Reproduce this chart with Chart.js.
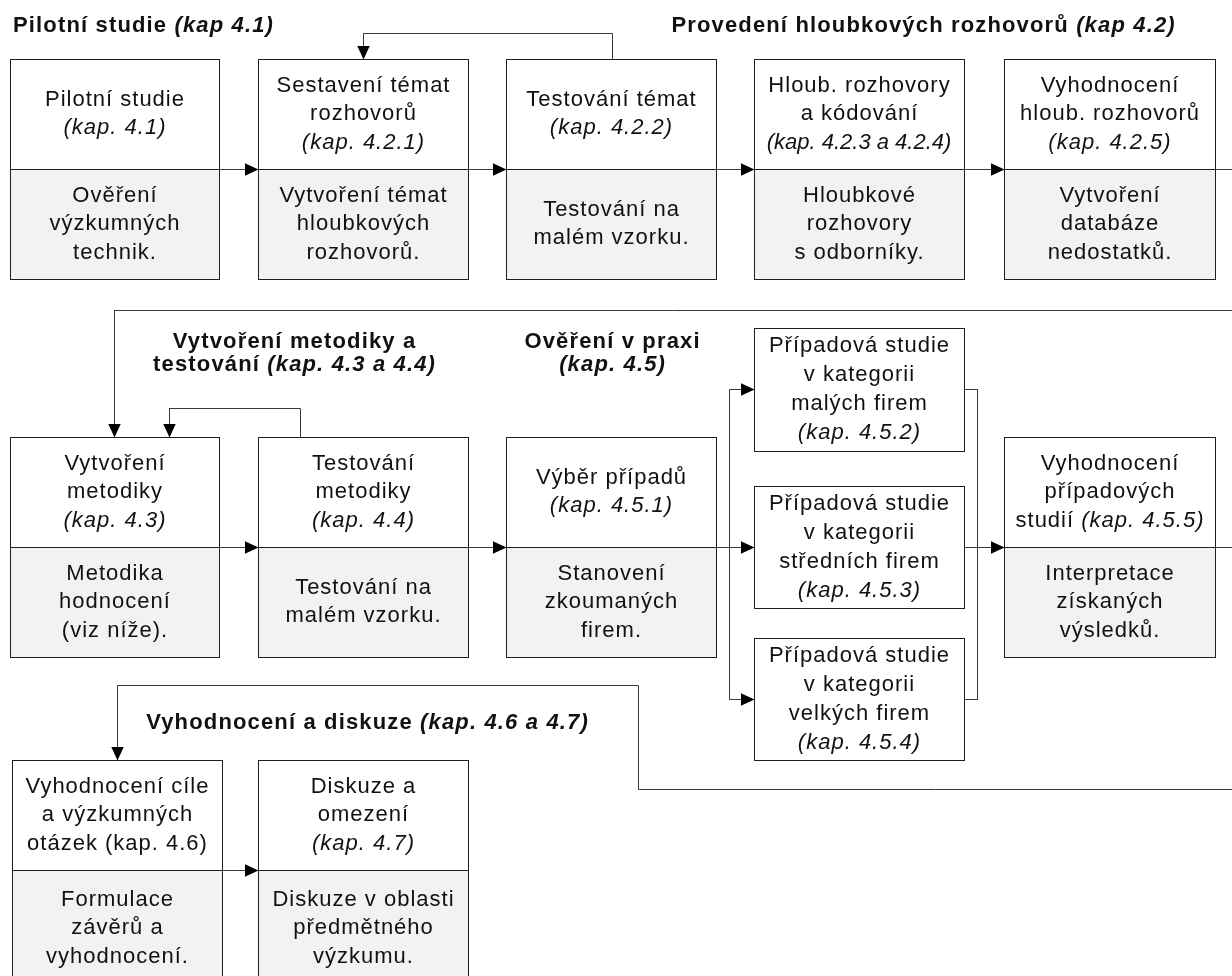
<!DOCTYPE html>
<html>
<head>
<meta charset="utf-8">
<script src="https://cdn.jsdelivr.net/npm/chart.js@4.4.0/dist/chart.umd.min.js"></script>
<style>
  html, body { margin: 0; padding: 0; background: #fff; }
  #wrap { width: 1232px; height: 976px; }
</style>
</head>
<body>
<div id="wrap"><canvas id="chart" width="1232" height="976"></canvas></div>
<script>
// --- texty (podtrzitko = kurziva, "~" na zacatku = bez prolozeni) ---
var headings = [
    "Pilotní studie _(kap 4.1)_",
    "Provedení hloubkových rozhovorů _(kap 4.2)_",
    "Vytvoření metodiky a\ntestování _(kap. 4.3 a 4.4)_",
    "Ověření v praxi\n_(kap. 4.5)_",
    "Vyhodnocení a diskuze _(kap. 4.6 a 4.7)_"
];

var boxTitles = [
    "Pilotní studie\n_(kap. 4.1)_",
    "Sestavení témat\nrozhovorů\n_(kap. 4.2.1)_",
    "Testování témat\n_(kap. 4.2.2)_",
    "Hloub. rozhovory\na kódování\n~_(kap. 4.2.3 a 4.2.4)_",
    "Vyhodnocení\nhloub. rozhovorů\n_(kap. 4.2.5)_",
    "Vytvoření\nmetodiky\n_(kap. 4.3)_",
    "Testování\nmetodiky\n_(kap. 4.4)_",
    "Výběr případů\n_(kap. 4.5.1)_",
    "Případová studie\nv kategorii\nmalých firem\n_(kap. 4.5.2)_",
    "Případová studie\nv kategorii\nstředních firem\n_(kap. 4.5.3)_",
    "Případová studie\nv kategorii\nvelkých firem\n_(kap. 4.5.4)_",
    "Vyhodnocení\npřípadových\nstudií _(kap. 4.5.5)_",
    "Vyhodnocení cíle\na výzkumných\notázek (kap. 4.6)",
    "Diskuze a\nomezení\n_(kap. 4.7)_"
];

var boxNotes = [
    "Ověření\nvýzkumných\ntechnik.",
    "Vytvoření témat\nhloubkových\nrozhovorů.",
    "Testování na\nmalém vzorku.",
    "Hloubkové\nrozhovory\ns odborníky.",
    "Vytvoření\ndatabáze\nnedostatků.",
    "Metodika\nhodnocení\n(viz níže).",
    "Testování na\nmalém vzorku.",
    "Stanovení\nzkoumaných\nfirem.",
    "",
    "",
    "",
    "Interpretace\nzískaných\nvýsledků.",
    "Formulace\nzávěrů a\nvyhodnocení.",
    "Diskuze v oblasti\npředmětného\nvýzkumu."
];

// --- rozmisteni (jednotky os = px) ---
var headingX = [13, 923, 294, 612, 367];
var headingY = [26, 26, 342, 342, 723];
var headingAlign = ['left', 'center', 'center', 'center', 'center'];

var boxX = [10, 258, 506, 754, 1004, 10, 258, 506, 754, 754, 754, 1004, 12, 258];
var boxY = [59, 59, 59, 59, 59, 437, 437, 437, 328, 486, 638, 437, 760, 760];
var boxW = [209, 210, 210, 210, 211, 209, 210, 210, 210, 210, 210, 211, 210, 210];
var boxTopH = [110, 110, 110, 110, 110, 110, 110, 110, 123, 122, 122, 110, 110, 110];
var boxLowH = [110, 110, 110, 110, 110, 110, 110, 110, 0, 0, 0, 110, 116, 116];

var connectors = [
    [[219, 169], [258, 169]],
    [[468, 169], [506, 169]],
    [[716, 169], [754, 169]],
    [[964, 169], [1004, 169]],
    [[1215, 169], [1232, 169]],
    [[612, 59], [612, 33], [363, 33], [363, 59]],
    [[1232, 310], [114, 310], [114, 437]],
    [[300, 437], [300, 408], [169, 408], [169, 437]],
    [[219, 547], [258, 547]],
    [[468, 547], [506, 547]],
    [[716, 547], [754, 547]],
    [[729, 389], [729, 699]],
    [[729, 389], [754, 389]],
    [[729, 699], [754, 699]],
    [[964, 389], [977, 389], [977, 699], [964, 699]],
    [[964, 547], [1004, 547]],
    [[1215, 547], [1232, 547]],
    [[1232, 789], [638, 789], [638, 685], [117, 685], [117, 760]],
    [[222, 870], [258, 870]]
];
var hasArrow = [1, 1, 1, 1, 0, 1, 1, 1, 1, 1, 1, 0, 1, 1, 0, 1, 0, 1, 1];

var FONT = '"Liberation Sans", Arial, sans-serif';

function drawRich(ctx, text, x, y, align, size, bold, spacing) {
    if (text.charAt(0) === '~') { spacing = 0; text = text.slice(1); }
    var parts = text.split('_');
    var widths = [], total = 0;
    ctx.letterSpacing = spacing + 'px';
    parts.forEach(function (p, i) {
        ctx.font = (i % 2 ? 'italic ' : '') + (bold ? 'bold ' : '') + size + 'px ' + FONT;
        var w = ctx.measureText(p).width;
        widths.push(w);
        total += w;
    });
    total -= spacing;
    var start = align === 'left' ? x : (align === 'right' ? x - total : x - total / 2);
    ctx.textAlign = 'left';
    ctx.textBaseline = 'middle';
    parts.forEach(function (p, i) {
        ctx.font = (i % 2 ? 'italic ' : '') + (bold ? 'bold ' : '') + size + 'px ' + FONT;
        ctx.fillText(p, start, y);
        start += widths[i];
    });
}

function drawLines(ctx, text, cx, cy, gap, align, size, bold, spacing) {
    var lines = text.split('\n');
    lines.forEach(function (l, i) {
        drawRich(ctx, l, cx, cy + (i - (lines.length - 1) / 2) * gap, align, size, bold, spacing);
    });
}

var flowPlugin = {
    id: 'flow',
    beforeDatasetsDraw: function (chart) {
        var ctx = chart.ctx, xs = chart.scales.x, ys = chart.scales.y;
        ctx.save();
        ctx.lineWidth = 1;
        ctx.strokeStyle = '#1e1e1e';
        boxX.forEach(function (bx, i) {
            var l = Math.round(xs.getPixelForValue(bx)) + 0.5;
            var r = Math.round(xs.getPixelForValue(bx + boxW[i])) + 0.5;
            var t = Math.round(ys.getPixelForValue(boxY[i])) + 0.5;
            var m = Math.round(ys.getPixelForValue(boxY[i] + boxTopH[i])) + 0.5;
            var b = Math.round(ys.getPixelForValue(boxY[i] + boxTopH[i] + boxLowH[i])) + 0.5;
            ctx.fillStyle = '#ffffff';
            ctx.fillRect(l, t, r - l, m - t);
            if (boxLowH[i] > 0) {
                ctx.fillStyle = '#f2f2f2';
                ctx.fillRect(l, m, r - l, b - m);
            }
            ctx.strokeRect(l, t, r - l, b - t);
            if (boxLowH[i] > 0) {
                ctx.beginPath();
                ctx.moveTo(l, m);
                ctx.lineTo(r, m);
                ctx.stroke();
            }
        });
        ctx.restore();
    },
    afterDatasetsDraw: function (chart) {
        var ctx = chart.ctx, xs = chart.scales.x, ys = chart.scales.y;
        ctx.save();
        // sipky
        ctx.fillStyle = '#000';
        connectors.forEach(function (pts, i) {
            if (!hasArrow[i]) return;
            var a = pts[pts.length - 2], b = pts[pts.length - 1];
            var x1 = xs.getPixelForValue(a[0]) + 0.5, y1 = ys.getPixelForValue(a[1]) + 0.5;
            var x2 = xs.getPixelForValue(b[0]) + 0.5, y2 = ys.getPixelForValue(b[1]) + 0.5;
            var ang = Math.atan2(y2 - y1, x2 - x1);
            var len = 13.5, hw = 6.2;
            ctx.beginPath();
            ctx.moveTo(x2, y2);
            ctx.lineTo(x2 - len * Math.cos(ang) + hw * Math.sin(ang), y2 - len * Math.sin(ang) - hw * Math.cos(ang));
            ctx.lineTo(x2 - len * Math.cos(ang) - hw * Math.sin(ang), y2 - len * Math.sin(ang) + hw * Math.cos(ang));
            ctx.closePath();
            ctx.fill();
        });
        // texty v krabicich
        ctx.fillStyle = '#111';
        boxX.forEach(function (bx, i) {
            var cx = xs.getPixelForValue(bx + boxW[i] / 2);
            var gap = boxLowH[i] > 0 ? 28.5 : 29;
            var cyTop = ys.getPixelForValue(boxY[i] + boxTopH[i] / 2);
            drawLines(ctx, boxTitles[i], cx, cyTop, gap, 'center', 22, false, 1);
            if (boxNotes[i]) {
                var cyLow = ys.getPixelForValue(boxY[i] + boxTopH[i] + boxLowH[i] / 2);
                drawLines(ctx, boxNotes[i], cx, cyLow, gap, 'center', 22, false, 1);
            }
        });
        // nadpisy
        headings.forEach(function (h, i) {
            var n = h.split('\n').length;
            drawLines(ctx, h, xs.getPixelForValue(headingX[i]),
                ys.getPixelForValue(headingY[i]) + (n - 1) * 11.5, 23, headingAlign[i], 22, true, 1.15);
        });
        ctx.restore();
    }
};

var ctx = document.getElementById('chart');
var chart = new Chart(ctx, {
    type: 'scatter',
    data: {
        datasets: connectors.map(function (pts) {
            return {
                data: pts.map(function (p) { return { x: p[0] + 0.5, y: p[1] + 0.5 }; }),
                showLine: true,
                borderColor: '#3a3a3a',
                borderWidth: 1,
                pointRadius: 0,
                fill: false,
                tension: 0,
                clip: false
            };
        })
    },
    options: {
        responsive: false,
        animation: false,
        events: [],
        layout: { padding: 0 },
        plugins: {
            legend: { display: false },
            tooltip: { enabled: false }
        },
        scales: {
            x: { type: 'linear', min: 0, max: 1232, display: false },
            y: { type: 'linear', min: 0, max: 976, reverse: true, display: false }
        }
    },
    plugins: [flowPlugin]
});
</script>
</body>
</html>
